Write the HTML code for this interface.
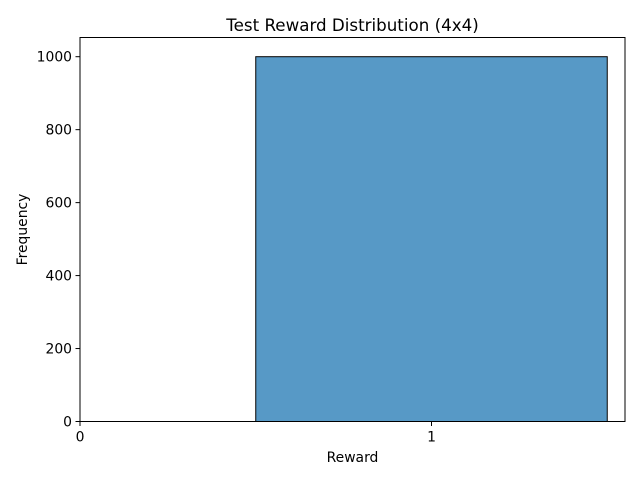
<!DOCTYPE html>
<html><head><meta charset="utf-8"><style>
body{margin:0;background:#fff;}
svg{display:block;font-family:"DejaVu Sans","Liberation Sans",sans-serif;}
</style></head><body>
<svg id="chart" width="640" height="480"></svg>
<script>
const categories=[1];
const frequencies=[1000];
const xTicks=[0,1];
const yTicks=[0,200,400,600,800,1000];
const NS="http://www.w3.org/2000/svg";
const svg=document.getElementById('chart');
const L=80,R=625,T=37.5,B=421.5;
const xs=v=>L+v*351.5;
const ys=v=>B-v*(B-56.7)/1000;
function mk(t,a,txt){const e=document.createElementNS(NS,t);for(const k in a)e.setAttribute(k,a[k]);if(txt!==undefined)e.textContent=txt;svg.appendChild(e);return e;}
categories.forEach((c,i)=>{
 const r=mk('rect',{x:xs(c-0.5),y:ys(frequencies[i]),width:xs(c+0.5)-xs(c-0.5),height:B-ys(frequencies[i]),fill:'#5799c6',stroke:'#000','stroke-width':1});
 
 
});
const f=mk('rect',{x:L,y:T,width:R-L,height:B-T,fill:'none',stroke:'#000','stroke-width':1});


xTicks.forEach(v=>{
 mk('line',{x1:xs(v),x2:xs(v),y1:B,y2:B+4.5,stroke:'#000'});
 const t=mk('text',{x:xs(v),y:B+20,'text-anchor':'middle','font-size':13.9},v);
 
 
});
yTicks.forEach(v=>{
 mk('line',{x1:L-4.5,x2:L,y1:ys(v),y2:ys(v),stroke:'#000'});
 const t=mk('text',{x:L-8,y:ys(v)+5,'text-anchor':'end','font-size':13.9},v);
 
 
});
const tt=mk('text',{x:(L+R)/2,y:31,'text-anchor':'middle','font-size':16.7},'Test Reward Distribution (4x4)');


const xl=mk('text',{x:(L+R)/2,y:462,'text-anchor':'middle','font-size':13.9},'Reward');


const yl=mk('text',{x:27,y:(T+B)/2,'text-anchor':'middle','font-size':13.9,transform:'rotate(-90 27 '+(T+B)/2+')'},'Frequency');


</script>
</body></html>
